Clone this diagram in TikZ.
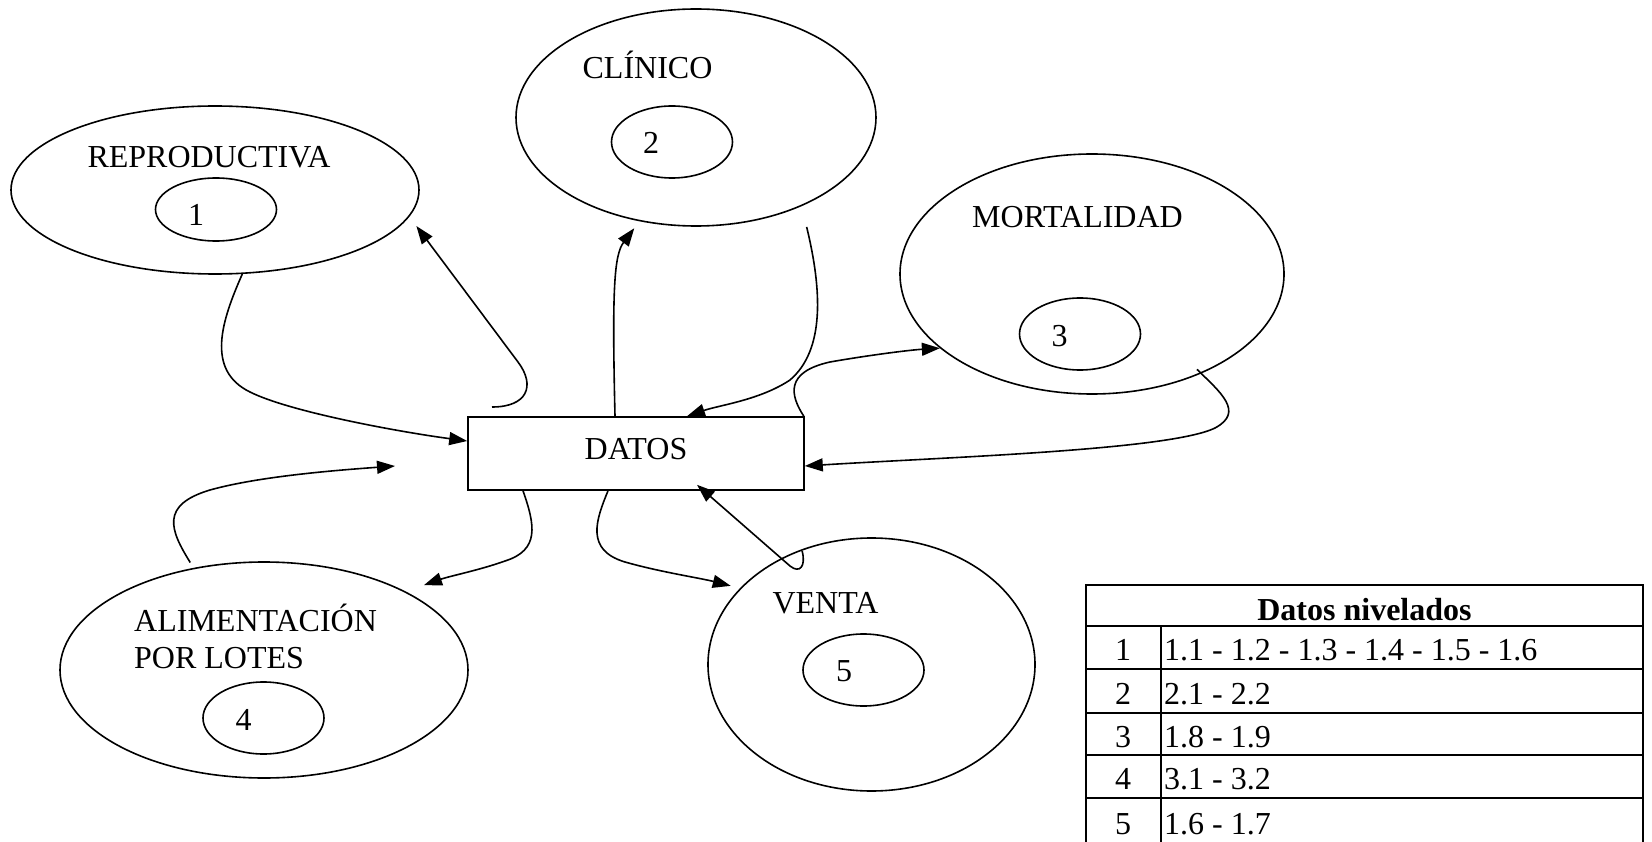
\documentclass[tikz,border=0pt]{standalone}
\usepackage{fontspec}
\setmainfont{Liberation Serif}
\usetikzlibrary{shapes.geometric,arrows.meta}
\begin{document}
\begin{tikzpicture}[x=1pt,y=-1pt,
  every node/.style={font=\fontsize{32}{37}\selectfont},
  ellbig/.style={draw, line width=1.6pt, ellipse, inner sep=0pt},
  ellsmall/.style={draw, line width=1.6pt, ellipse, inner sep=0pt, minimum width=121pt, minimum height=72pt},
  txt/.style={anchor=base, inner sep=0pt},
  txtl/.style={anchor=base west, inner sep=0pt},
  conarrow/.style={line width=1.6pt, -{Triangle[length=18pt,width=13pt]}},
  tabouter/.style={line width=2.6pt},
  tabinner/.style={line width=1.8pt}
]
\fill[white] (0,0) rectangle (1652,842);
\useasboundingbox (0,0) rectangle (1652,842);

% outer ellipses
\node[ellbig, minimum width=408pt, minimum height=168pt] (rep) at (215,190) {};
\node[ellbig, minimum width=360pt, minimum height=217pt] (clin) at (696,117.5) {};
\node[ellbig, minimum width=384pt, minimum height=240pt] (mort) at (1092,274) {};
\node[ellbig, minimum width=408pt, minimum height=216pt] (alim) at (264,670) {};
\node[ellbig, minimum width=327pt, minimum height=253pt] (venta) at (871.5,664.5) {};

% inner ellipses
\node[ellsmall, minimum height=63pt] (in1) at (216,209.5) {};
\node[ellsmall] (in2) at (672,142) {};
\node[ellsmall] (in3) at (1080,334) {};
\node[ellsmall] (in4) at (263.5,718) {};
\node[ellsmall] (in5) at (863.5,670) {};

% labels
\node[txt] (trep) at (209,168) {REPRODUCTIVA};
\node[txt] (n1) at (196,226) {1};
\node[txt] (tclin) at (647.5,79) {CLÍNICO};
\node[txt] (n2) at (651,154) {2};
\node[txt] (tmort) at (1077.5,228) {MORTALIDAD};
\node[txt] (n3) at (1059.5,347) {3};
\node[txtl] (talim1) at (134,631) {ALIMENTACIÓN};
\node[txtl] (talim2) at (134,668) {POR LOTES};
\node[txt] (n4) at (243.5,730) {4};
\node[txt] (tventa) at (825.5,613) {VENTA};
\node[txt] (n5) at (844,681) {5};

% central box
\node[draw, line width=1.6pt, rectangle, inner sep=0pt, minimum width=336pt, minimum height=73pt,
      text height=21.5pt, text depth=10.5pt] (datos) at (636,453.5) {DATOS};

% free ends
\coordinate (repout) at (492,407);
\coordinate (alimend) at (395,466);

% connectors
\draw[conarrow] (rep.-72) .. controls (222,320) and (205,370) .. (250,392)
  .. controls (290,412) and (400,432) .. ([yshift=12.5pt]datos.west);
\draw[conarrow] (repout) .. controls (527,407) and (536,386) .. (518,362)
  -- ([xshift=16pt]rep.-11);
\draw[conarrow] ([xshift=-21pt]datos.north) .. controls (612,290) and (614,255)
  .. ([yshift=-8pt]clin.-121);
\draw[conarrow] ([yshift=-23pt]clin.-38) .. controls (822,290) and (825,350) .. (790,380)
  .. controls (760,400) and (720,405) .. ([xshift=51pt]datos.north);
\draw[conarrow] ([xshift=-1pt]datos.north east) .. controls (790,395) and (785,372) .. (830,362)
  .. controls (870,355) and (910,350) .. (mort.-154);
\draw[conarrow] ([yshift=6pt]mort.-44) .. controls (1220,392) and (1245,412) .. (1215,428)
  .. controls (1170,450) and (950,457) .. ([yshift=-12.5pt]datos.east);
\draw[conarrow] ([yshift=6pt]alim.126) .. controls (170,530) and (160,505) .. (210,490)
  .. controls (260,476) and (340,470) .. (alimend);
\draw[conarrow] ([xshift=-113pt]datos.south) .. controls (535,525) and (540,550) .. (505,561)
  .. controls (480,570) and (450,576) .. ([yshift=17pt]alim.23);
\draw[conarrow] ([xshift=-28pt]datos.south) .. controls (596,520) and (585,550) .. (625,562)
  .. controls (660,572) and (700,578) .. ([yshift=13pt]venta.155);
\draw[conarrow] ([yshift=-2pt]venta.121) .. controls (806,566) and (800,574) .. (790,566)
  -- ([xshift=61pt,yshift=6pt]datos.south);

% table
\draw[tabouter] (1086,585) rectangle (1643,846);
\draw[tabinner] (1086,626) -- (1643,626);
\draw[tabinner] (1086,669) -- (1643,669);
\draw[tabinner] (1086,713) -- (1643,713);
\draw[tabinner] (1086,755) -- (1643,755);
\draw[tabinner] (1086,798) -- (1643,798);
\draw[tabinner] (1161,626) -- (1161,846);
\node[txt, font=\fontsize{32}{37}\selectfont\bfseries] (thead) at (1364.5,620) {Datos nivelados};
\node[txt] (r1a) at (1123,660) {1};
\node[txt] (r2a) at (1123,704) {2};
\node[txt] (r3a) at (1123,747) {3};
\node[txt] (r4a) at (1123,789) {4};
\node[txt] (r5a) at (1123,834) {5};
\node[txtl] (r1b) at (1164,660) {1.1 - 1.2 - 1.3 - 1.4 - 1.5 - 1.6};
\node[txtl] (r2b) at (1164,704) {2.1 - 2.2};
\node[txtl] (r3b) at (1164,747) {1.8 - 1.9};
\node[txtl] (r4b) at (1164,789) {3.1 - 3.2};
\node[txtl] (r5b) at (1164,834) {1.6 - 1.7};
\end{tikzpicture}
\end{document}
